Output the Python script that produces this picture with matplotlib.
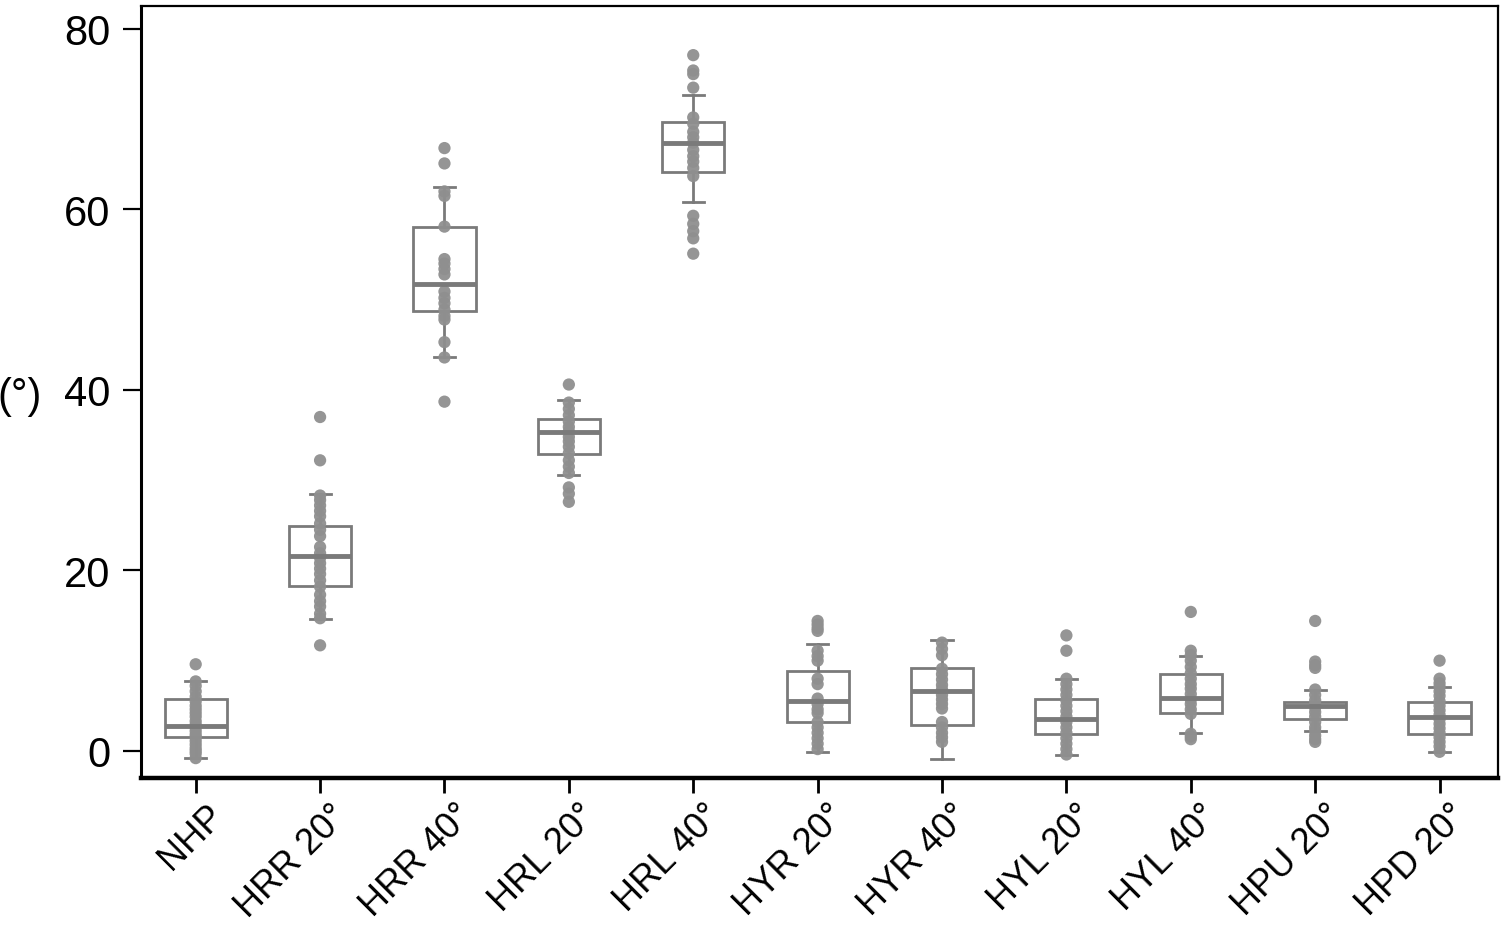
import matplotlib
matplotlib.use("Agg")
import matplotlib.pyplot as plt
import matplotlib.transforms as mtransforms

plt.rcParams['font.family'] = ['Liberation Sans', 'DejaVu Sans']

categories = ["NHP", "HRR 20°", "HRR 40°", "HRL 20°", "HRL 40°", "HYR 20°",
              "HYR 40°", "HYL 20°", "HYL 40°", "HPU 20°", "HPD 20°"]

# box statistics
q1 = [1.5, 18.3, 48.8, 32.9, 64.1, 3.2, 2.9, 1.9, 4.2, 3.5, 1.9]
medians = [2.8, 21.6, 51.7, 35.3, 67.4, 5.5, 6.6, 3.5, 5.9, 5.0, 3.8]
q3 = [5.7, 24.9, 58.1, 36.8, 69.7, 8.8, 9.2, 5.8, 8.5, 5.4, 5.4]
whisker_low = [-0.8, 14.6, 43.6, 30.6, 60.8, -0.1, -0.9, -0.4, 2.0, 2.25, -0.15]
whisker_high = [7.7, 28.5, 62.5, 38.9, 72.7, 11.9, 12.3, 8.0, 10.5, 6.8, 7.1]

# individual observations (visible dots)
pts_nhp = [9.6, 7.7, 7.2, 6.6, 6.0, 5.5, 5.0, 4.6, 4.2, 3.8, 3.3, 2.9, 2.6, 2.2,
           1.8, 1.5, 1.1, 0.7, 0.3, 0.0, -0.3, -0.8]
pts_hrr20 = [37.0, 32.2, 28.3, 27.8, 27.2, 26.6, 26.0, 25.2, 24.5, 23.8, 22.6,
             21.9, 21.4, 20.8, 20.2, 19.6, 18.9, 18.2, 17.3, 16.6, 16.0, 15.2,
             14.7, 11.7]
pts_hrr40 = [66.8, 65.1, 62.0, 61.5, 58.1, 54.5, 54.0, 53.4, 52.8, 50.9, 50.2,
             49.6, 48.9, 48.2, 47.8, 45.3, 43.6, 38.7]
pts_hrl20 = [40.6, 38.6, 37.9, 37.2, 36.5, 35.9, 35.4, 34.8, 34.3, 33.7, 33.0,
             32.2, 31.5, 30.8, 29.2, 28.5, 27.6]
pts_hrl40 = [77.1, 75.4, 75.0, 73.5, 70.2, 69.5, 68.6, 68.0, 67.4, 66.6, 65.9,
             65.3, 64.6, 63.7, 59.3, 58.4, 57.6, 56.8, 55.1]
pts_hyr20 = [14.4, 14.0, 13.6, 13.3, 11.1, 10.5, 10.0, 8.0, 7.4, 5.8, 5.2, 4.6,
             4.2, 3.2, 2.6, 2.0, 1.4, 0.8, 0.2]
pts_hyr40 = [12.0, 11.3, 10.6, 9.1, 8.5, 7.9, 7.3, 6.8, 6.2, 5.7, 5.2, 4.7, 3.2,
             2.6, 2.0, 1.5, 1.0]
pts_hyl20 = [12.8, 11.1, 8.0, 7.4, 6.8, 6.2, 5.6, 5.0, 4.4, 3.8, 3.2, 2.6, 2.0,
             1.4, 0.8, 0.2, -0.4]
pts_hyl40 = [15.4, 11.1, 10.6, 10.0, 9.3, 8.6, 8.0, 7.4, 6.9, 6.3, 5.7, 5.2, 4.6,
             4.1, 1.9, 1.6, 1.3]
pts_hpu20 = [14.4, 9.9, 9.5, 9.2, 6.8, 6.2, 5.6, 5.2, 4.8, 4.3, 3.8, 3.2, 2.6,
             2.2, 1.7, 1.3, 1.0]
pts_hpd20 = [10.0, 8.0, 7.5, 7.1, 6.6, 6.1, 5.5, 5.0, 4.5, 4.0, 3.5, 3.0, 2.5,
             2.0, 1.5, 1.0, 0.5, -0.1]

points = [pts_nhp, pts_hrr20, pts_hrr40, pts_hrl20, pts_hrl40, pts_hyr20,
          pts_hyr40, pts_hyl20, pts_hyl40, pts_hpu20, pts_hpd20]

yticks = [0, 20, 40, 60, 80]

fig = plt.figure(figsize=(15.06, 9.29), dpi=100)
ax = fig.add_axes([0.0936, 0.1615, 0.9011, 0.831])

stats = []
for i, name in enumerate(categories):
    stats.append(dict(label=name, med=medians[i], q1=q1[i], q3=q3[i],
                      whislo=whisker_low[i], whishi=whisker_high[i], fliers=[]))

box_col = '#7a7a7a'
pt_col = '#8f8f8f'
positions = list(range(len(categories)))

for i, vals in enumerate(points):
    ax.scatter([positions[i]] * len(vals), vals, s=78, color=pt_col,
               edgecolors='none', zorder=3, alpha=0.95)

ax.bxp(stats, positions=positions, widths=0.5, showfliers=False,
       patch_artist=True,
       boxprops=dict(facecolor='white', edgecolor=box_col, linewidth=2.0),
       medianprops=dict(color=box_col, linewidth=3.5, zorder=4),
       whiskerprops=dict(color=box_col, linewidth=2.0),
       capprops=dict(color=box_col, linewidth=2.0), capwidths=0.17,
       zorder=2)

ax.set_xlim(-0.44, 10.47)
ax.set_ylim(-3.0, 82.55)
ax.set_yticks(yticks)
ax.set_yticklabels([str(v) for v in yticks], fontsize=30)
ax.set_xticks(positions)

ax.tick_params(axis='y', length=13, width=1.6, pad=9, colors='black')
ax.tick_params(axis='x', length=11, width=2.0, pad=8, colors='black')

ax.set_xticklabels(categories, fontsize=26, rotation=45, ha='right',
                   va='top', rotation_mode='anchor')
offset = mtransforms.ScaledTranslation(10 / 100, 7 / 100, fig.dpi_scale_trans)
for lbl in ax.get_xticklabels():
    lbl.set_transform(lbl.get_transform() + offset)

ax.spines['left'].set_linewidth(2.2)
for side in ['top', 'right']:
    ax.spines[side].set_linewidth(1.6)
ax.spines['bottom'].set_linewidth(3.2)

ax.set_ylabel('(°)', rotation=0, fontsize=30, ha='right', va='center')
ax.yaxis.set_label_coords(-0.073, 0.495)

fig.savefig('out.png', dpi=100, facecolor='white')
